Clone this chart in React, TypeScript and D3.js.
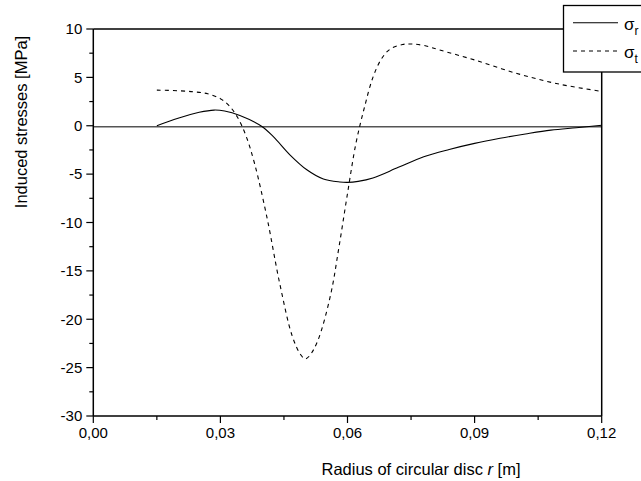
import React from "react";
import * as d3 from "d3";

const radiusR = [0.015, 0.020, 0.025, 0.0285, 0.031, 0.0346, 0.0397, 0.0425, 0.0464, 0.0504, 0.0543, 0.0582, 0.060, 0.0625, 0.066, 0.072, 0.078, 0.084, 0.090, 0.096, 0.102, 0.108, 0.114, 0.120];
const sigmaR = [0, 0.77, 1.39, 1.62, 1.52, 1.05, -0.05, -1.13, -3.0, -4.55, -5.5, -5.81, -5.85, -5.75, -5.4, -4.3, -3.2, -2.45, -1.82, -1.3, -0.85, -0.45, -0.2, 0.05];

const radiusT = [0.015, 0.020, 0.024, 0.027, 0.030, 0.032, 0.034, 0.036, 0.038, 0.041, 0.044, 0.047, 0.049, 0.050, 0.051, 0.053, 0.056, 0.058, 0.060, 0.062, 0.064, 0.066, 0.068, 0.070, 0.073, 0.075, 0.078, 0.082, 0.090, 0.100, 0.110, 0.120];
const sigmaT = [3.68, 3.62, 3.5, 3.3, 2.8, 2.1, 0.9, -1.0, -3.8, -9.5, -16.3, -21.8, -23.7, -24.1, -23.8, -22.2, -17.5, -12.5, -7.0, -1.8, 1.9, 5.0, 6.9, 7.9, 8.4, 8.45, 8.3, 7.8, 6.8, 5.4, 4.3, 3.55];

const xMajorTicks = [0, 0.03, 0.06, 0.09, 0.12];
const xTickLabels = ["0,00", "0,03", "0,06", "0,09", "0,12"];
const xMinorTicks = [0.015, 0.045, 0.075, 0.105];
const yMajorTicks = [-30, -25, -20, -15, -10, -5, 0, 5, 10];
const yMinorTicks = [-27.5, -22.5, -17.5, -12.5, -7.5, -2.5, 2.5, 7.5];

const FONT = "'Liberation Sans', Arial, sans-serif";

export default function App() {
  const x = d3.scaleLinear().domain([0, 0.12]).range([93.3, 601.7]);
  const y = d3.scaleLinear().domain([-30, 10]).range([416, 29]);
  const line = d3
    .line<[number, number]>()
    .x((d) => x(d[0]))
    .y((d) => y(d[1]))
    .curve(d3.curveCatmullRom.alpha(0.5));
  const rData = radiusR.map((r, i) => [r, sigmaR[i]] as [number, number]);
  const tData = radiusT.map((r, i) => [r, sigmaT[i]] as [number, number]);
  const [x0, x1] = x.range();
  const [yb, yt] = y.range();

  return (
    <svg
      width={641}
      height={481}
      style={{ position: "absolute", left: 0, top: 0, background: "#fff" }}
      fontFamily={FONT}
    >
      <rect x={0} y={0} width={641} height={481} fill="#fff" />
      {/* zero line */}
      <line x1={x0} x2={x1} y1={y(0) + 1} y2={y(0) + 1} stroke="#555" strokeWidth={1.6} />
      {/* curves */}
      <path d={line(rData) || ""} fill="none" stroke="#000" strokeWidth={1.1} />
      <path d={line(tData) || ""} fill="none" stroke="#000" strokeWidth={1.1} strokeDasharray="4,4" />
      {/* frame */}
      <line x1={x0} x2={x1} y1={yt} y2={yt} stroke="#000" strokeWidth={1.5} />
      <line x1={x0} x2={x1} y1={yb} y2={yb} stroke="#000" strokeWidth={1.5} />
      <line x1={x0} x2={x0} y1={yt} y2={yb} stroke="#000" strokeWidth={1.5} />
      <line x1={x1} x2={x1} y1={yt} y2={yb} stroke="#000" strokeWidth={1.5} />
      {/* x ticks */}
      {xMajorTicks.map((t, i) => (
        <g key={"xm" + i}>
          <line x1={x(t)} x2={x(t)} y1={yb} y2={yb + 7} stroke="#000" strokeWidth={1.2} />
          <text x={x(t)} y={yb + 22} fontSize={15} textAnchor="middle" fill="#000">
            {xTickLabels[i]}
          </text>
        </g>
      ))}
      {xMinorTicks.map((t, i) => (
        <line key={"xn" + i} x1={x(t)} x2={x(t)} y1={yb} y2={yb + 4} stroke="#000" strokeWidth={1.2} />
      ))}
      {/* y ticks */}
      {yMajorTicks.map((t, i) => (
        <g key={"ym" + i}>
          <line x1={x0 - 7} x2={x0} y1={y(t)} y2={y(t)} stroke="#000" strokeWidth={1.2} />
          <text x={x0 - 11} y={y(t)} dy="0.35em" fontSize={15} textAnchor="end" fill="#000">
            {String(t)}
          </text>
        </g>
      ))}
      {yMinorTicks.map((t, i) => (
        <line key={"yn" + i} x1={x0 - 4} x2={x0} y1={y(t)} y2={y(t)} stroke="#000" strokeWidth={1.2} />
      ))}
      {/* axis titles */}
      <text x={421} y={475} fontSize={16.5} textAnchor="middle" fill="#000">
        Radius of circular disc <tspan fontStyle="italic">r</tspan> [m]
      </text>
      <text
        transform="translate(27,122) rotate(-90)"
        fontSize={16.5}
        textAnchor="middle"
        fill="#000"
      >
        Induced stresses [MPa]
      </text>
      {/* legend */}
      <rect x={563.5} y={5.5} width={100} height={66.5} fill="#fff" stroke="#000" strokeWidth={1.3} />
      <line x1={573} x2={618} y1={22.7} y2={22.7} stroke="#000" strokeWidth={1.1} />
      <line x1={573} x2={618} y1={51} y2={51} stroke="#000" strokeWidth={1.1} strokeDasharray="4,4" />
      <text x={624} y={30} fontSize={17} fill="#000">
        σ<tspan fontSize={12} dy={5}>r</tspan>
      </text>
      <text x={624} y={58} fontSize={17} fill="#000">
        σ<tspan fontSize={12} dy={5}>t</tspan>
      </text>
    </svg>
  );
}
